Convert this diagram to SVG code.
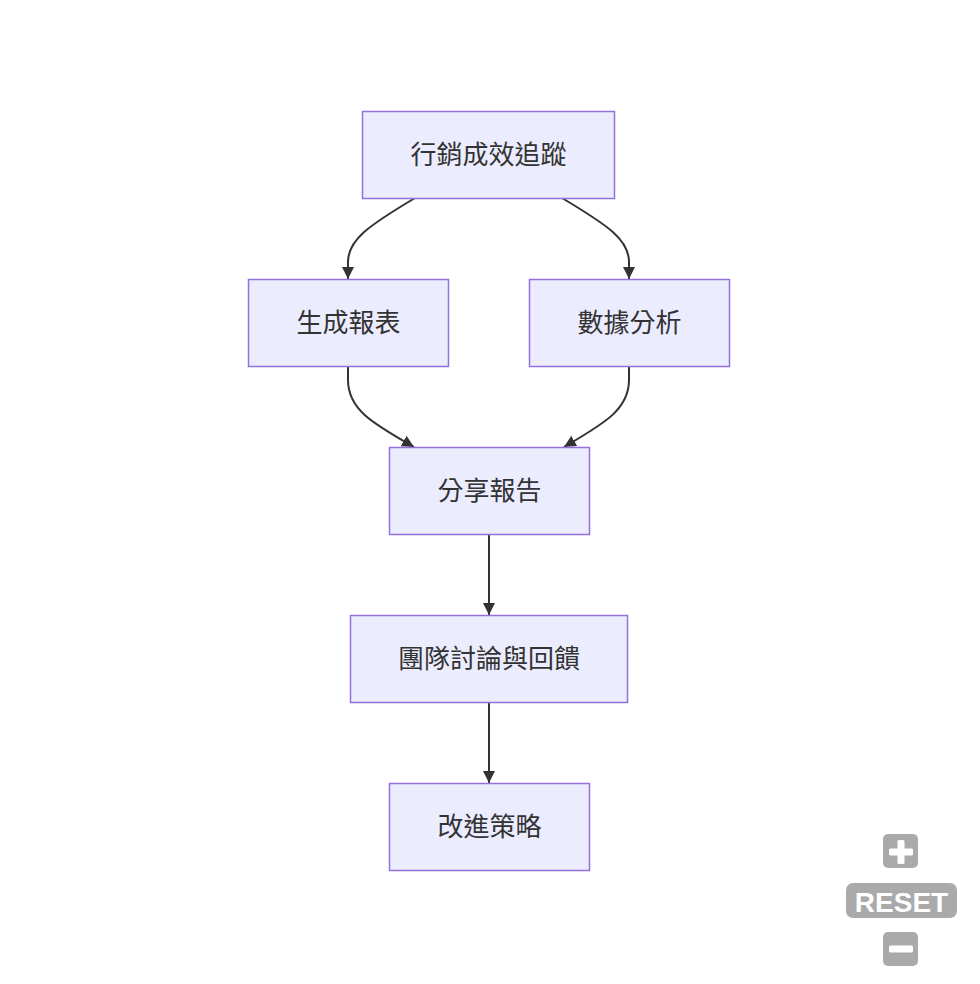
<svg xmlns="http://www.w3.org/2000/svg" width="980" height="984" viewBox="0 0 980 984">
<style>
.node rect{fill:#ECECFF;stroke:#9370DB;stroke-width:1.5}
.node text{font-family:"Noto Sans CJK TC","Noto Sans CJK SC",sans-serif;font-size:26px;fill:#333333;text-anchor:middle;dominant-baseline:central}
.edges path{fill:none;stroke:#333333;stroke-width:2}
.ctl rect{fill:#aaaaaa}
.ctl text{font-family:"Liberation Sans",Arial,sans-serif;font-weight:bold;font-size:28px;fill:#ffffff;text-anchor:middle}
</style>
<defs>
<marker id="arrow" viewBox="0 0 10 10" refX="10" refY="5" markerWidth="12" markerHeight="12" markerUnits="userSpaceOnUse" orient="auto">
<path d="M0,0 L10,5 L0,10 z" fill="#333333"/>
</marker>
</defs>
<rect width="980" height="984" fill="#ffffff"/>
<g class="edges">
<path d="M415,198 C368,226 348,240 348,262 L348,279" marker-end="url(#arrow)"/>
<path d="M562,198 C609,226 629,240 629,262 L629,279" marker-end="url(#arrow)"/>
<path d="M348,366 L348,380 C348,410 374,424 414,447" marker-end="url(#arrow)"/>
<path d="M629,366 L629,380 C629,410 603,424 564,447" marker-end="url(#arrow)"/>
<path d="M489,534 L489,615" marker-end="url(#arrow)"/>
<path d="M489,702 L489,783" marker-end="url(#arrow)"/>
</g>
<g id="n1" class="node"><rect x="362.5" y="111.5" width="252" height="87"/><text x="488.5" y="152.5">行銷成效追蹤</text></g>
<g id="n2" class="node"><rect x="248.5" y="279.5" width="200" height="87"/><text x="348.5" y="320.5">生成報表</text></g>
<g id="n3" class="node"><rect x="529.5" y="279.5" width="200" height="87"/><text x="629.5" y="320.5">數據分析</text></g>
<g id="n4" class="node"><rect x="389.5" y="447.5" width="200" height="87"/><text x="489.5" y="488.5">分享報告</text></g>
<g id="n5" class="node"><rect x="350.5" y="615.5" width="277" height="87"/><text x="489" y="656.5">團隊討論與回饋</text></g>
<g id="n6" class="node"><rect x="389.5" y="783.5" width="200" height="87"/><text x="489.5" y="824.5">改進策略</text></g>
<g id="controls" class="ctl">
<g id="zoom-in"><rect x="883" y="834" width="35" height="34" rx="5"/><rect x="889" y="848.5" width="24" height="7" rx="1.5" style="fill:#ffffff"/><rect x="897.5" y="840" width="7" height="24" rx="1.5" style="fill:#ffffff"/></g>
<g id="reset"><rect x="846" y="883" width="111" height="35" rx="7"/><text x="901.5" y="912">RESET</text></g>
<g id="zoom-out"><rect x="883" y="932" width="35" height="34" rx="5"/><rect x="889" y="945.5" width="24" height="7" rx="1.5" style="fill:#ffffff"/></g>
</g>
</svg>
